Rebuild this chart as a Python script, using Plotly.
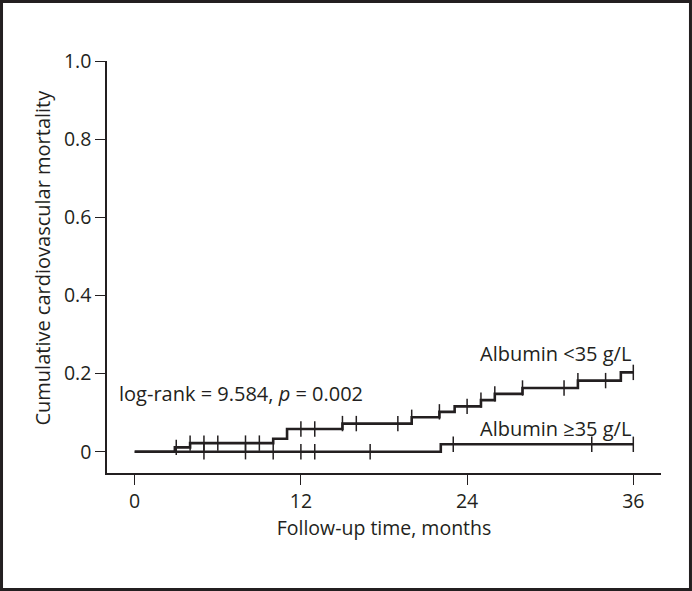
import plotly.graph_objects as go

# Albumin <35 g/L : Kaplan-Meier cumulative mortality steps
low_event_t = [0, 2.9, 4.0, 10.0, 11.0, 15.0, 20.0, 22.0, 23.1, 25.0, 26.0, 28.0, 32.0, 35.1, 36.0]
low_event_v = [0, 0.011, 0.022, 0.033, 0.058, 0.072, 0.088, 0.102, 0.116, 0.132, 0.148, 0.163, 0.182, 0.203, 0.203]
low_censor_t = [3, 4, 5, 6, 8, 9, 12, 13, 15, 16, 19, 20, 22, 24, 25, 26, 28, 31, 32, 34, 36]

# Albumin >=35 g/L
high_event_t = [0, 22.1, 36.0]
high_event_v = [0, 0.019, 0.019]
high_censor_t = [5, 8, 10, 12, 13, 17, 23, 33, 36]

x_ticks = [0, 12, 24, 36]
y_ticks = [0, 0.2, 0.4, 0.6, 0.8, 1.0]
y_ticklabels = ["0", "0.2", "0.4", "0.6", "0.8", "1.0"]

INK = "#231f20"
FONT = "Open Sans"


def step_value(ts, vs, t):
    val = vs[0]
    for ti, vi in zip(ts, vs):
        if ti <= t:
            val = vi
    return val


fig = go.Figure()
for et, ev, ct in [(low_event_t, low_event_v, low_censor_t),
                   (high_event_t, high_event_v, high_censor_t)]:
    fig.add_trace(go.Scatter(x=et, y=ev, mode="lines", line=dict(color=INK, width=2.6, shape="hv"),
                             showlegend=False, hoverinfo="skip"))
    fig.add_trace(go.Scatter(x=ct, y=[step_value(et, ev, t) for t in ct], mode="markers",
                             marker=dict(symbol="line-ns", size=11, line=dict(color=INK, width=1.5)),
                             showlegend=False, hoverinfo="skip"))

fig.add_annotation(x=-1.25, y=0.149, xref="x", yref="y", xanchor="left", yanchor="middle",
                   text="log-rank = 9.584, <i>p</i> = 0.002", showarrow=False,
                   font=dict(family=FONT, size=20, color=INK))
fig.add_annotation(x=36.0, y=0.252, xref="x", yref="y", xanchor="right", yanchor="middle",
                   text="Albumin &lt;35 g/L", showarrow=False,
                   font=dict(family=FONT, size=20, color=INK))
fig.add_annotation(x=36.0, y=0.06, xref="x", yref="y", xanchor="right", yanchor="middle",
                   text="Albumin ≥35 g/L", showarrow=False,
                   font=dict(family=FONT, size=20, color=INK))
# y-axis title
fig.add_annotation(x=-0.1155, y=0.523, xref="paper", yref="paper", xanchor="center",
                   yanchor="middle", textangle=-90, showarrow=False,
                   text="Cumulative cardiovascular mortality",
                   font=dict(family=FONT, size=20, color=INK))

# outer frame
fig.add_shape(type="rect", xref="paper", yref="paper",
              x0=-0.1904, x1=1.0532, y0=-0.2828, y1=1.1444,
              line=dict(color=INK, width=3), fillcolor="rgba(0,0,0,0)")

fig.update_layout(
    width=692, height=591,
    margin=dict(l=107, r=31, t=61, b=118),
    paper_bgcolor="white", plot_bgcolor="white",
    font=dict(family=FONT, size=19.5, color=INK),
    xaxis=dict(range=[-2, 38], tickvals=x_ticks, ticks="outside", ticklen=10, tickwidth=1.3,
               tickcolor=INK, showline=True, linecolor=INK, linewidth=1.5, showgrid=False,
               zeroline=False, tickfont=dict(size=19.5),
               title=dict(text="Follow-up time, months", standoff=2, font=dict(size=19.5)),
               fixedrange=True),
    yaxis=dict(range=[-0.0545, 1.0], tickvals=y_ticks, ticktext=y_ticklabels, ticks="outside",
               ticklen=10, tickwidth=1.3, tickcolor=INK, showline=True, linecolor=INK,
               linewidth=1.5, showgrid=False, zeroline=False, tickfont=dict(size=19.5),
               fixedrange=True),
)

fig.write_html("out.html", config={"displayModeBar": False},
               post_script="document.body.style.margin='0';")
